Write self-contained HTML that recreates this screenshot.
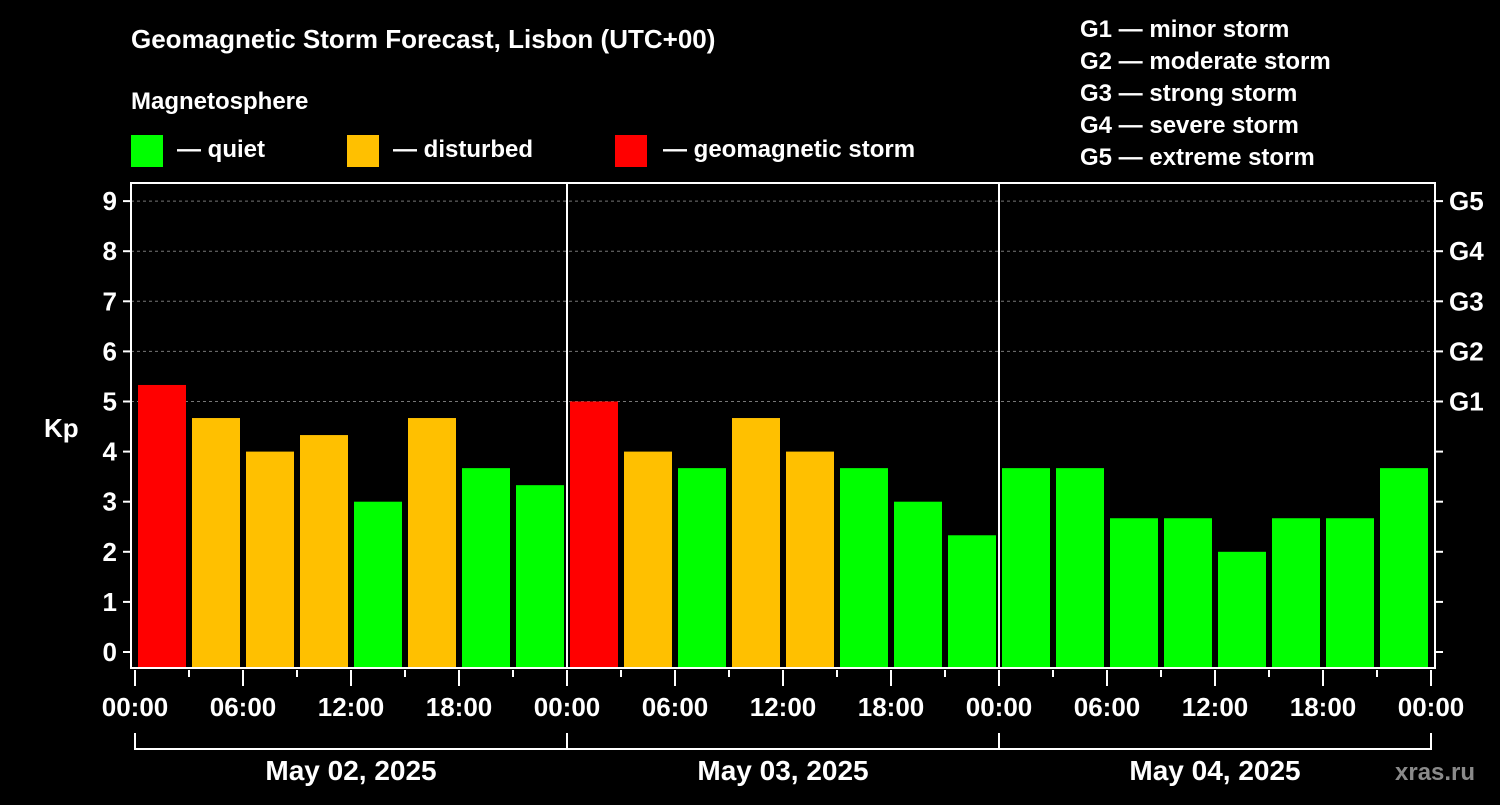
<!DOCTYPE html>
<html><head><meta charset="utf-8"><style>
body{margin:0;background:#000;width:1500px;height:800px;overflow:hidden}
svg text{font-family:"Liberation Sans",Arial,sans-serif;font-weight:bold;fill:#fff}
</style></head><body>
<svg id="c" width="1500" height="800" xmlns="http://www.w3.org/2000/svg">
<text x="131" y="48" font-size="26">Geomagnetic Storm Forecast, Lisbon (UTC+00)</text>
<text x="131" y="109" font-size="24">Magnetosphere</text>
<rect x="131" y="135" width="32" height="32" fill="#00ff00"/>
<text x="177" y="157" font-size="24">— quiet</text>
<rect x="347" y="135" width="32" height="32" fill="#ffc000"/>
<text x="393" y="157" font-size="24">— disturbed</text>
<rect x="615" y="135" width="32" height="32" fill="#ff0000"/>
<text x="663" y="157" font-size="24">— geomagnetic storm</text>
<g font-size="24">
<text x="1080" y="37">G1 — minor storm</text>
<text x="1080" y="69">G2 — moderate storm</text>
<text x="1080" y="101">G3 — strong storm</text>
<text x="1080" y="133">G4 — severe storm</text>
<text x="1080" y="165">G5 — extreme storm</text>
</g>
<text x="44" y="437" font-size="26">Kp</text>
<text x="1395" y="780" font-size="24" fill="#888" style="fill:#8a8a8a">xras.ru</text>
<g id="plot"></g>
</svg>
<script>
const days=["May 02, 2025","May 03, 2025","May 04, 2025"];
const hourLabels=["00:00","06:00","12:00","18:00"];
const kpValues=[5.33,4.67,4.0,4.33,3.0,4.67,3.67,3.33, 5.0,4.0,3.67,4.67,4.0,3.67,3.0,2.33, 3.67,3.67,2.67,2.67,2.0,2.67,2.67,3.67];
const yTicks=[0,1,2,3,4,5,6,7,8,9];
const gLabels=["G1","G2","G3","G4","G5"];
const NS="http://www.w3.org/2000/svg";
const g=document.getElementById('plot');
const L=131,R=1435,T=183,B=668,X0=135,dayW=432;
const y=v=>652-v*50.1;
const x=i=>X0+i*dayW/8;
function mk(t,a,txt){const e=document.createElementNS(NS,t);for(const k in a)e.setAttribute(k,a[k]);if(txt!=null)e.textContent=txt;g.appendChild(e);return e;}
// grid
for(let v=5;v<=9;v++){const e=mk('line',{x1:L,x2:R,y1:y(v),y2:y(v),stroke:'#777','stroke-dasharray':'3,3'});

}
// bars
kpValues.forEach((v,i)=>{const c=v>=5?'#ff0000':v>=4?'#ffc000':'#00ff00';
const e=mk('rect',{x:x(i)+3,y:y(v),width:48,height:B-y(v),fill:c});

});
// frame
const f=mk('rect',{x:L,y:T,width:R-L,height:B-T,fill:'none',stroke:'#fff','stroke-width':2});


// day separators
for(let d=1;d<days.length;d++){const e=mk('line',{x1:X0+d*dayW,x2:X0+d*dayW,y1:T,y2:B,stroke:'#fff','stroke-width':2});

}
// y ticks
yTicks.forEach(v=>{mk('line',{x1:L-8,x2:L,y1:y(v),y2:y(v),stroke:'#fff','stroke-width':2});
mk('line',{x1:R,x2:R+8,y1:y(v),y2:y(v),stroke:'#fff','stroke-width':2});
const t=mk('text',{x:L-14,y:y(v)+9,'font-size':26,'text-anchor':'end'},String(v));

});
gLabels.forEach((s,i)=>{const t=mk('text',{x:1449,y:y(5+i)+9,'font-size':26},s);

});
// x ticks
for(let i=0;i<=days.length*8;i++){const major=i%2==0;
mk('line',{x1:x(i),x2:x(i),y1:B+2,y2:B+(major?18:9),stroke:'#fff','stroke-width':2});
if(major){const t=mk('text',{x:x(i),y:716,'font-size':26,'text-anchor':'middle'},hourLabels[(i/2)%4]);

}}
// day brackets
days.forEach((d,k)=>{const a=X0+k*dayW,b=a+dayW;
mk('path',{d:`M${a} 733V749H${b}V733`,fill:'none',stroke:'#fff','stroke-width':2});
const t=mk('text',{x:(a+b)/2,y:780,'font-size':28,'text-anchor':'middle'},d);

});
</script>
</body></html>
